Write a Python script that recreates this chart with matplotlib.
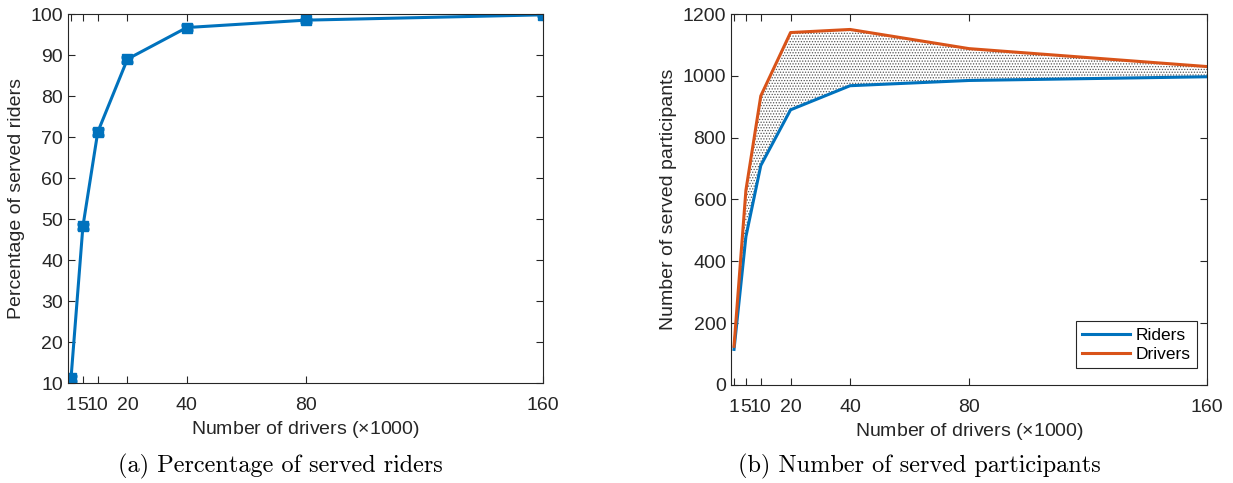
import numpy as np
import matplotlib
matplotlib.use('Agg')
import matplotlib.pyplot as plt

plt.rcParams['font.family'] = ['Liberation Sans', 'DejaVu Sans']
plt.rcParams['mathtext.fontset'] = 'custom'
plt.rcParams['mathtext.rm'] = 'Liberation Sans'
plt.rcParams['hatch.linewidth'] = 0.6

drivers = [1, 5, 10, 20, 40, 80, 160]
pct_served = [11.2, 48.2, 71.2, 89.0, 96.7, 98.5, 99.8]
pct_err = [0.6, 0.7, 0.7, 0.6, 0.5, 0.4, 0.3]
riders_served = [115, 480, 710, 890, 968, 985, 997]
drivers_served = [125, 630, 935, 1140, 1150, 1088, 1030]

blue = '#0072BD'
orange = '#D95319'
axcol = '#262626'

fig = plt.figure(figsize=(12.33, 4.83), dpi=100)
ax1 = fig.add_axes([0.0552, 0.207, 0.3852, 0.764])
ax2 = fig.add_axes([0.5929, 0.203, 0.386, 0.768])


def style(ax):
    ax.tick_params(direction='in', top=True, right=True, labelsize=14,
                   colors=axcol, length=5, width=0.8)
    ax.tick_params(axis='x', pad=10)
    for s in ax.spines.values():
        s.set_color(axcol)
        s.set_linewidth(0.8)
    ax.set_xticks(drivers)
    ax.set_xticklabels([str(d) for d in drivers])
    ax.set_xlim(0, 160)


# (a)
ax1.errorbar(drivers, pct_served, yerr=pct_err, color=blue, lw=2.2,
             marker='s', ms=7, capsize=4.5, elinewidth=1.8, capthick=1.8)
style(ax1)
ax1.set_ylim(10, 100)
ax1.set_yticks(np.arange(10, 101, 10))
ax1.set_ylabel('Percentage of served riders', fontsize=14, color=axcol,
               labelpad=4)
ax1.set_xlabel(r'Number of drivers ($\times$1000)', fontsize=14, color=axcol,
               labelpad=4)

# (b)
ax2.fill_between(drivers, riders_served, drivers_served, facecolor='white',
                 edgecolor='#555555', hatch='......', linewidth=0)
ax2.plot(drivers, riders_served, color=blue, lw=2.2, label='Riders')
ax2.plot(drivers, drivers_served, color=orange, lw=2.2, label='Drivers')
style(ax2)
ax2.set_ylim(0, 1200)
ax2.set_yticks(np.arange(0, 1201, 200))
ax2.set_ylabel('Number of served participants', fontsize=14, color=axcol,
               labelpad=4)
ax2.set_xlabel(r'Number of drivers ($\times$1000)', fontsize=14, color=axcol,
               labelpad=4)
leg = ax2.legend(loc='lower right', bbox_to_anchor=(0.978, 0.045),
                 fontsize=12.5, fancybox=False, framealpha=1,
                 edgecolor=axcol, handlelength=2.8, borderpad=0.35,
                 labelspacing=0.25, handletextpad=0.3, borderaxespad=0)
leg.get_frame().set_linewidth(0.8)

fig.text(0.227, 0.035, '(a) Percentage of served riders', ha='center',
         va='center', fontsize=17.5, family='cmr10')
fig.text(0.746, 0.035, '(b) Number of served participants', ha='center',
         va='center', fontsize=17.5, family='cmr10')

fig.savefig('out.png', dpi=100)
